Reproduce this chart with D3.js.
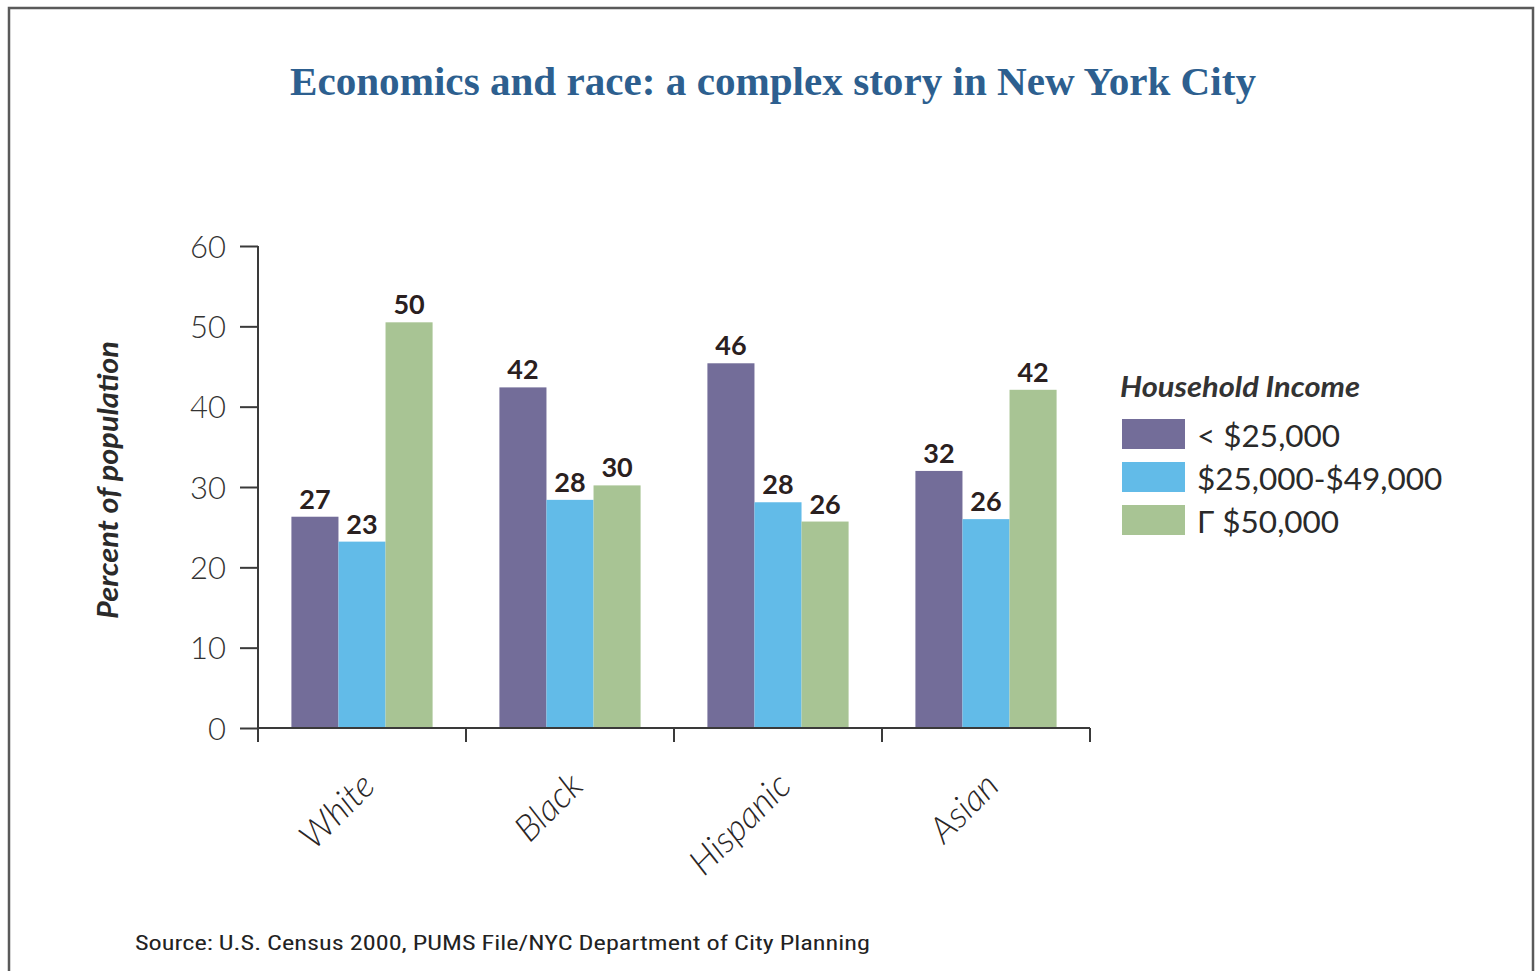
<!DOCTYPE html>
<html>
<head>
<meta charset="utf-8">
<script src="https://cdn.jsdelivr.net/npm/d3@7"></script>
<style>
  html, body { margin: 0; padding: 0; background: #fff; }
  svg { display: block; }
</style>
</head>
<body>
<svg id="chart" width="1535" height="971"></svg>
<script>
// ---- data ----
const categories = ["White", "Black", "Hispanic", "Asian"];
const seriesNames = ["< $25,000", "$25,000-$49,000", "Γ $50,000"];
const under25 = [26.3, 42.4, 45.4, 32.0];
const mid25to49 = [23.2, 28.4, 28.1, 26.0];
const over50 = [50.5, 30.2, 25.7, 42.1];
const labelsUnder25 = [27, 42, 46, 32];
const labelsMid = [23, 28, 28, 26];
const labelsOver50 = [50, 30, 26, 42];
const yTicks = [0, 10, 20, 30, 40, 50, 60];
const colors = ["#736d99", "#62bbe8", "#a8c494"];

const seriesValues = [under25, mid25to49, over50];
const seriesLabels = [labelsUnder25, labelsMid, labelsOver50];

const svg = d3.select("#chart");
const FONT = "Lato, 'Noto Sans', sans-serif";

// frame
svg.append("rect")
  .attr("x", 9).attr("y", 8).attr("width", 1524).attr("height", 990)
  .attr("fill", "none").attr("stroke", "#5a5a5a").attr("stroke-width", 2.5);

// title
svg.append("text")
  .attr("x", 773).attr("y", 95)
  .attr("text-anchor", "middle")
  .attr("font-family", "'Liberation Serif', 'DejaVu Serif', serif")
  .attr("font-weight", "bold")
  .attr("font-size", 40)
  .attr("fill", "#2d5f8f")
  .attr("textLength", 966).attr("lengthAdjust", "spacingAndGlyphs")
  .text("Economics and race: a complex story in New York City");

// scales
const x0 = d3.scaleBand().domain(categories).range([258, 1090]).paddingInner(0).paddingOuter(0);
const x1 = d3.scaleBand().domain(d3.range(seriesNames.length)).range([0, x0.bandwidth()]).paddingInner(0).paddingOuter(0.71);
const y = d3.scaleLinear().domain([0, 60]).range([728, 246]);

const axisColor = "#3a3a3a";

// bars
const g = svg.append("g");
seriesValues.forEach((vals, si) => {
  g.selectAll(null).data(categories).enter().append("rect")
    .attr("x", (c) => x0(c) + x1(si))
    .attr("y", (c, i) => y(vals[i]))
    .attr("width", x1.bandwidth())
    .attr("height", (c, i) => y(0) - y(vals[i]))
    .attr("fill", colors[si]);
  g.selectAll(null).data(categories).enter().append("text")
    .attr("x", (c) => x0(c) + x1(si) + x1.bandwidth() / 2)
    .attr("y", (c, i) => y(vals[i]) - 8)
    .attr("text-anchor", "middle")
    .attr("font-family", FONT)
    .attr("font-weight", 700)
    .attr("font-size", 27)
    .attr("fill", "#2a2020")
    .text((c, i) => seriesLabels[si][i]);
});

// y axis
const yAxis = d3.axisLeft(y).tickValues(yTicks).tickSize(18).tickPadding(14).tickSizeOuter(0);
const ya = svg.append("g").attr("transform", "translate(258,0)").call(yAxis);
ya.select(".domain").remove();
ya.selectAll(".tick line").attr("stroke", axisColor).attr("stroke-width", 2);
ya.selectAll(".tick text")
  .attr("font-family", FONT).attr("font-weight", 300).attr("font-size", 31)
  .attr("fill", "#333").attr("dy", "0.36em");
svg.append("line")
  .attr("x1", 258).attr("x2", 258).attr("y1", y(60)).attr("y2", y(0) + 14)
  .attr("stroke", axisColor).attr("stroke-width", 2);

// x axis
svg.append("line")
  .attr("x1", x0.range()[0]).attr("x2", x0.range()[1]).attr("y1", y(0)).attr("y2", y(0))
  .attr("stroke", axisColor).attr("stroke-width", 2);
const boundaries = categories.map(c => x0(c)).concat([x0.range()[1]]);
svg.selectAll(null).data(boundaries.slice(1)).enter().append("line")
  .attr("x1", d => d).attr("x2", d => d).attr("y1", y(0)).attr("y2", y(0) + 14)
  .attr("stroke", axisColor).attr("stroke-width", 2);

// x labels
svg.selectAll(null).data(categories).enter().append("text")
  .attr("transform", c => `translate(${x0(c) + x0.bandwidth() / 2 + 15},788) rotate(-45)`)
  .attr("text-anchor", "end")
  .attr("font-family", FONT).attr("font-style", "italic").attr("font-weight", 300)
  .attr("font-size", 36).attr("fill", "#2a2626")
  .text(c => c);

// y axis title
svg.append("text")
  .attr("transform", "translate(118,480) rotate(-90)")
  .attr("text-anchor", "middle")
  .attr("font-family", FONT).attr("font-style", "italic").attr("font-weight", 700)
  .attr("font-size", 28).attr("fill", "#2a2a2a")
  .attr("textLength", 278).attr("lengthAdjust", "spacingAndGlyphs")
  .text("Percent of population");

// legend
svg.append("text")
  .attr("x", 1120).attr("y", 397)
  .attr("font-family", FONT).attr("font-style", "italic").attr("font-weight", 700)
  .attr("font-size", 29).attr("fill", "#333")
  .attr("textLength", 240).attr("lengthAdjust", "spacingAndGlyphs")
  .text("Household Income");
const leg = svg.append("g").attr("transform", "translate(1122,419)");
seriesNames.forEach((name, i) => {
  leg.append("rect").attr("x", 0).attr("y", i * 43).attr("width", 63).attr("height", 30).attr("fill", colors[i]);
  leg.append("text").attr("x", 75).attr("y", i * 43 + 28)
    .attr("font-family", FONT).attr("font-weight", 400).attr("font-size", 31.5).attr("fill", "#2a2a2a")
    .text(name);
});

// source
svg.append("text")
  .attr("x", 135).attr("y", 950)
  .attr("font-family", "'Liberation Sans Narrow', 'Roboto Condensed', Roboto, sans-serif")
  .attr("font-size", 21).attr("fill", "#222")
  .attr("textLength", 735).attr("lengthAdjust", "spacingAndGlyphs")
  .text("Source: U.S. Census 2000, PUMS File/NYC Department of City Planning");
</script>
</body>
</html>
